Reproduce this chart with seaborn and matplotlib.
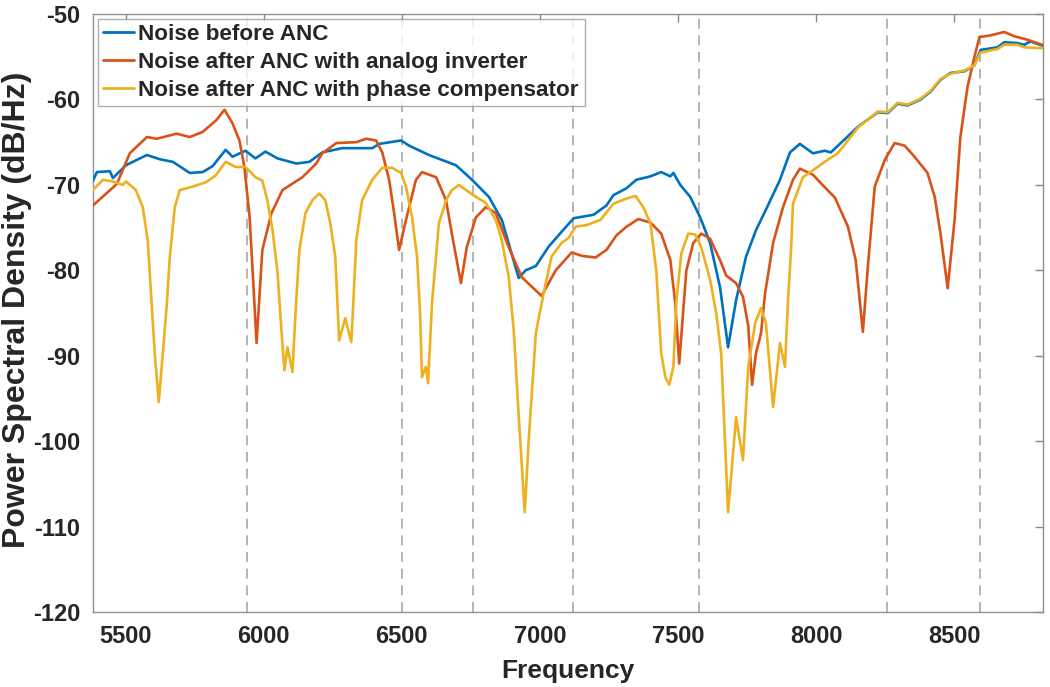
import pandas as pd
import matplotlib
matplotlib.use("Agg")
import matplotlib.pyplot as plt
import seaborn as sns

# (Hz, dB/Hz)
blue_freq = [5382, 5396, 5443, 5454, 5501, 5577, 5624, 5671, 5732, 5779,
             5815, 5862, 5887, 5934, 5970, 6006, 6050, 6118, 6165, 6212,
             6284, 6393, 6418, 6497, 6526, 6598, 6696, 6754, 6815, 6862,
             6923, 6948, 6985, 7032, 7078, 7122, 7194, 7241, 7266, 7313,
             7349, 7400, 7439, 7472, 7483, 7508, 7544, 7580, 7616, 7652,
             7681, 7710, 7746, 7782, 7818, 7869, 7905, 7941, 7988, 8031,
             8053, 8089, 8151, 8223, 8259, 8295, 8331, 8378, 8414, 8450,
             8486, 8537, 8573, 8595, 8656, 8681, 8728, 8754, 8775, 8818]
blue_db = [-69.5, -68.5, -68.4, -69.2, -67.7, -66.5, -67.0, -67.3, -68.6, -68.5,
           -67.8, -65.9, -66.7, -66.0, -66.9, -66.1, -66.9, -67.5, -67.3, -66.2,
           -65.7, -65.7, -65.2, -64.8, -65.4, -66.5, -67.7, -69.4, -71.4, -74.1,
           -80.9, -80.0, -79.5, -77.2, -75.5, -73.9, -73.5, -72.4, -71.2, -70.4,
           -69.4, -69.0, -68.5, -69.0, -68.6, -70.0, -71.4, -73.8, -76.8, -82.0,
           -89.0, -83.5, -78.4, -75.3, -72.9, -69.4, -66.2, -65.2, -66.3, -66.0,
           -66.2, -65.1, -63.2, -61.5, -61.6, -60.5, -60.7, -60.0, -59.1, -57.7,
           -56.9, -56.7, -56.0, -54.2, -53.9, -53.3, -53.4, -53.6, -53.2, -53.7]

red_freq = [5382, 5468, 5515, 5577, 5613, 5685, 5732, 5779, 5829, 5858,
            5887, 5912, 5930, 5949, 5959, 5974, 5995, 6028, 6068, 6140,
            6190, 6212, 6263, 6335, 6371, 6407, 6429, 6454, 6472, 6490,
            6515, 6551, 6573, 6624, 6660, 6681, 6714, 6735, 6768, 6804,
            6840, 6887, 6934, 7006, 7057, 7115, 7151, 7201, 7241, 7277,
            7313, 7356, 7400, 7439, 7472, 7490, 7504, 7530, 7555, 7584,
            7616, 7652, 7674, 7710, 7735, 7754, 7768, 7782, 7800, 7815,
            7844, 7880, 7916, 7941, 7988, 8017, 8068, 8115, 8143, 8169,
            8187, 8212, 8248, 8284, 8320, 8356, 8403, 8429, 8450, 8476,
            8501, 8522, 8548, 8573, 8591, 8631, 8681, 8717, 8764, 8818]
red_db = [-72.4, -69.9, -66.3, -64.4, -64.6, -64.0, -64.4, -63.8, -62.4, -61.2,
          -62.8, -64.8, -67.9, -73.8, -79.6, -88.5, -77.6, -73.3, -70.6, -69.1,
          -67.5, -66.3, -65.1, -65.0, -64.6, -64.8, -66.2, -69.4, -73.3, -77.6,
          -74.1, -69.4, -68.5, -69.1, -71.8, -75.7, -81.5, -77.3, -73.8, -72.6,
          -73.3, -77.3, -80.8, -83.0, -80.0, -77.9, -78.3, -78.5, -77.6, -75.9,
          -74.9, -74.0, -74.4, -75.7, -78.8, -83.9, -90.9, -80.0, -76.8, -75.7,
          -76.3, -78.8, -80.6, -81.5, -83.1, -86.5, -93.4, -89.7, -87.4, -82.7,
          -76.8, -72.6, -69.4, -68.1, -68.8, -69.8, -71.5, -74.9, -78.8, -87.2,
          -79.6, -70.2, -67.1, -65.1, -65.4, -66.7, -68.6, -71.4, -75.7, -82.1,
          -74.1, -64.4, -58.5, -55.0, -52.7, -52.5, -52.1, -52.6, -53.0, -53.6]

yellow_freq = [5382, 5418, 5454, 5490, 5501, 5537, 5562, 5580, 5591, 5606,
               5620, 5634, 5649, 5660, 5678, 5696, 5743, 5790, 5826, 5862,
               5898, 5934, 5970, 5995, 6013, 6032, 6050, 6064, 6075, 6086,
               6104, 6115, 6129, 6151, 6176, 6201, 6223, 6241, 6259, 6273,
               6295, 6317, 6324, 6335, 6356, 6393, 6429, 6465, 6497, 6515,
               6537, 6555, 6566, 6573, 6587, 6595, 6609, 6634, 6660, 6681,
               6707, 6732, 6768, 6804, 6840, 6862, 6887, 6905, 6923, 6945,
               6959, 6985, 6999, 7021, 7042, 7078, 7104, 7129, 7169, 7219,
               7266, 7313, 7346, 7374, 7400, 7421, 7439, 7454, 7468, 7483,
               7494, 7512, 7537, 7562, 7584, 7616, 7638, 7656, 7670, 7681,
               7710, 7735, 7754, 7779, 7800, 7818, 7844, 7869, 7887, 7898,
               7909, 7916, 7952, 7988, 8031, 8078, 8115, 8151, 8223, 8259,
               8295, 8331, 8378, 8414, 8450, 8486, 8537, 8573, 8595, 8656,
               8681, 8728, 8754, 8818]
yellow_db = [-70.6, -69.4, -69.6, -70.0, -69.6, -70.6, -72.6, -76.5, -82.3, -90.0,
             -95.4, -90.0, -84.0, -78.4, -72.6, -70.6, -70.2, -69.7, -68.9, -67.3,
             -67.9, -67.9, -69.1, -69.5, -71.8, -75.3, -80.3, -87.0, -91.7, -89.0,
             -91.9, -85.0, -77.6, -73.3, -71.8, -71.0, -71.8, -74.5, -78.4, -88.2,
             -85.6, -88.4, -84.0, -76.5, -71.8, -69.4, -68.0, -68.0, -68.6, -70.2,
             -73.8, -78.4, -85.0, -92.5, -91.3, -93.2, -83.9, -74.5, -71.8, -70.6,
             -70.0, -70.6, -71.4, -72.1, -74.1, -76.5, -80.8, -87.0, -97.0, -108.3,
             -100.0, -87.4, -85.0, -81.5, -78.4, -76.8, -76.2, -74.9, -74.7, -74.1,
             -72.2, -71.6, -71.3, -72.6, -74.5, -80.0, -89.7, -92.5, -93.4, -91.3,
             -83.5, -78.0, -75.7, -75.8, -77.3, -81.1, -85.0, -89.7, -100.0, -108.3,
             -97.2, -102.2, -91.3, -86.2, -84.4, -86.2, -96.0, -88.5, -91.3, -83.5,
             -77.6, -72.2, -69.1, -68.3, -67.3, -66.3, -64.8, -63.3, -61.4, -61.5,
             -60.4, -60.6, -59.9, -59.0, -57.6, -57.0, -56.6, -56.0, -54.5, -54.1,
             -53.6, -53.6, -53.9, -54.0]

series_names = ["Noise before ANC",
                "Noise after ANC with analog inverter",
                "Noise after ANC with phase compensator"]
series_colors = ["#0072BD", "#D95319", "#EDB120"]

# dashed marker frequencies
marker_freqs = [5941, 6500, 6757, 7118, 7576, 8257, 8593]

df = pd.concat([
    pd.DataFrame({"freq": blue_freq, "psd": blue_db, "series": series_names[0]}),
    pd.DataFrame({"freq": red_freq, "psd": red_db, "series": series_names[1]}),
    pd.DataFrame({"freq": yellow_freq, "psd": yellow_db, "series": series_names[2]}),
], ignore_index=True)

sns.set_style("white")
plt.rcParams["font.family"] = ["Liberation Sans", "DejaVu Sans"]
plt.rcParams["axes.unicode_minus"] = False

fig = plt.figure(figsize=(10.5, 6.87), dpi=100)
ax = fig.add_axes([0.0886, 0.109, 0.9047, 0.8706])

for f in marker_freqs:
    ax.axvline(f, color="#a8a8a8", lw=1.2, ls=(0, (6, 4)), zorder=1)

sns.lineplot(data=df, x="freq", y="psd", hue="series", hue_order=series_names,
             palette=series_colors, estimator=None, sort=False, lw=1.9, ax=ax,
             zorder=3)

ax.set_xlim(5382, 8821)
ax.set_ylim(-120, -50)
ax.set_xticks([5500, 6000, 6500, 7000, 7500, 8000, 8500])
ax.set_yticks(range(-120, -49, 10))
ax.tick_params(direction="in", length=6, width=1, color="#888888",
               top=True, right=True, labelsize=17, pad=9)
for lab in ax.get_xticklabels() + ax.get_yticklabels():
    lab.set_fontweight("bold")
for sp in ax.spines.values():
    sp.set_color("#909090")
    sp.set_linewidth(1.0)

ax.set_xlabel("Frequency", fontsize=19, fontweight="bold", labelpad=8)
ax.set_ylabel("Power Spectral Density (dB/Hz)", fontsize=23, fontweight="bold")
ax.yaxis.set_label_coords(-0.064, 0.505)

leg = ax.legend(loc="upper left", frameon=True, fancybox=False,
                handlelength=1.35, handletextpad=0.22, borderpad=0.25,
                labelspacing=0.3, borderaxespad=0.2,
                prop={"weight": "bold", "size": 16.2})
leg.get_frame().set_edgecolor("#999999")
leg.get_frame().set_linewidth(1.0)
for line in leg.get_lines():
    line.set_linewidth(2.0)

fig.savefig("out.png", dpi=100)
